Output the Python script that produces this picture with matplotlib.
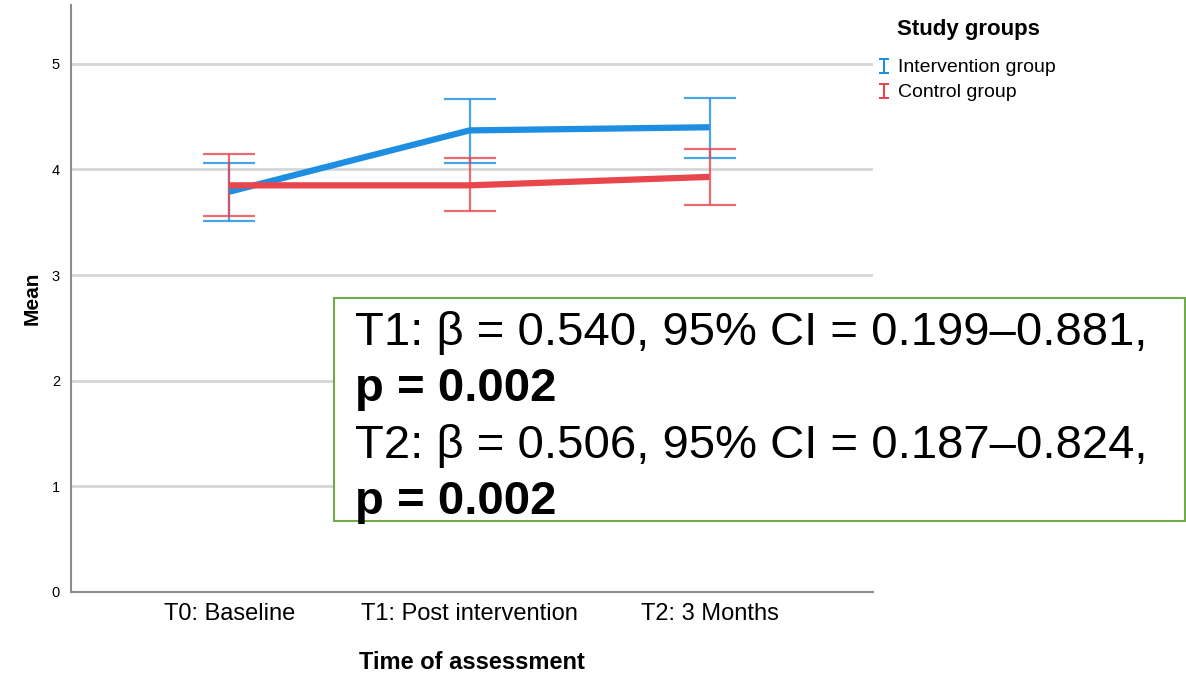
import numpy as np
import matplotlib.pyplot as plt
from matplotlib.lines import Line2D

timepoints = ['T0: Baseline', 'T1: Post intervention', 'T2: 3 Months']
groups = ['Intervention group', 'Control group']
colors = ['#1e8ee2', '#e8464c']

# group means with 95% CI bounds at each time point
means = {
    'Intervention group': [3.79, 4.37, 4.40],
    'Control group': [3.85, 3.85, 3.93],
}
ci_low = {
    'Intervention group': [3.51, 4.065, 4.11],
    'Control group': [3.555, 3.61, 3.665],
}
ci_high = {
    'Intervention group': [4.065, 4.67, 4.68],
    'Control group': [4.145, 4.11, 4.195],
}

stats_lines = [
    ('T1: β = 0.540, 95% CI = 0.199–0.881,', 'normal'),
    ('p = 0.002', 'bold'),
    ('T2: β = 0.506, 95% CI = 0.187–0.824,', 'normal'),
    ('p = 0.002', 'bold'),
]

sans = ['Liberation Sans', 'DejaVu Sans']

fig = plt.figure(figsize=(11.86, 6.75), dpi=100)
ax = fig.add_axes([0.0599, 0.123, 0.676, 0.870])

x = np.arange(len(timepoints))
for g, c in zip(groups, colors):
    m = np.array(means[g])
    err = [m - np.array(ci_low[g]), np.array(ci_high[g]) - m]
    ax.errorbar(x, m, yerr=err, fmt='none', ecolor=c, elinewidth=1.6,
                capsize=18.5, capthick=1.6, alpha=0.8, zorder=3)
    ax.plot(x, m, color=c, lw=4.5, solid_capstyle='butt', zorder=4)

ax.set_xlim(-0.66, 2.68)
ax.set_ylim(0, 5.56)
ax.set_yticks([0, 1, 2, 3, 4, 5])
ax.set_xticks(x)
ax.set_xticklabels(timepoints, fontfamily=sans, fontsize=17)
for lab in ax.get_yticklabels():
    lab.set_fontfamily(sans)
    lab.set_fontsize(10.5)
ax.tick_params(axis='y', length=0, pad=8)
ax.tick_params(axis='x', length=0, pad=8)
ax.yaxis.grid(True, color='#d6d6d6', lw=2)
ax.set_axisbelow(True)
for s in ['top', 'right']:
    ax.spines[s].set_visible(False)
for s in ['left', 'bottom']:
    ax.spines[s].set_color('#8c8c8c')
    ax.spines[s].set_linewidth(1.5)

ax.set_ylabel('Mean', fontfamily=sans, fontsize=15, fontweight='bold', labelpad=7)
ax.set_xlabel('Time of assessment', fontfamily=sans, fontsize=17,
              fontweight='bold', labelpad=19)

# legend: title as text, entries with error-bar glyphs
fig.text(897 / 1186, 1 - 30 / 675, 'Study groups', fontfamily=sans, fontsize=16,
         fontweight='bold', va='center', ha='left')
handles = [Line2D([], [], linestyle='none', marker=r'$\mathtt{I}$', markersize=12,
                  markeredgewidth=0, color=c) for c in colors]
fig.legend(handles, groups, loc='upper left', bbox_to_anchor=(0.729, 0.933),
           frameon=False, prop={'family': sans, 'size': 14},
           handlelength=0.6, handletextpad=0.4, labelspacing=0.38,
           borderpad=0.2)

# annotation box with regression results
box = plt.Rectangle((334 / 1186, 1 - 521 / 675), (1185 - 334) / 1186, (521 - 298) / 675,
                    transform=fig.transFigure, facecolor='white', edgecolor='#70ad47',
                    lw=1.5, zorder=5)
fig.add_artist(box)
baselines = [345, 401, 458, 514]
for (txt, w), yb in zip(stats_lines, baselines):
    fig.text(355 / 1186, 1 - yb / 675, txt, fontfamily=sans, fontsize=34,
             fontweight=w, va='baseline', ha='left', zorder=6)

fig.savefig('out.png', dpi=100)
